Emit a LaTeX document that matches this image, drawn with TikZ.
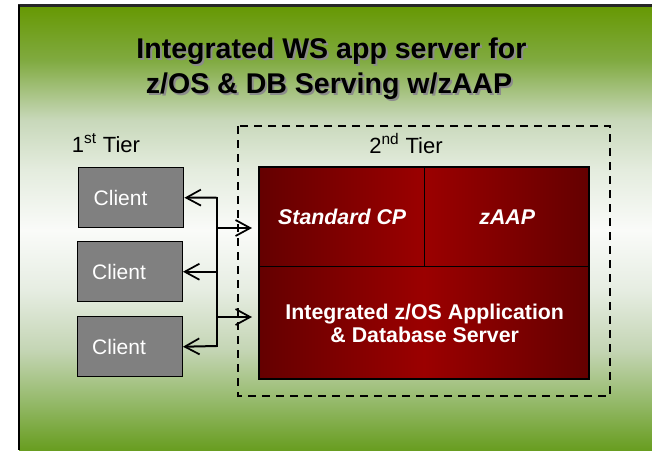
\documentclass[tikz,border=0pt]{standalone}
\usepackage{fontspec}
\setmainfont{Liberation Sans}
\usetikzlibrary{arrows.meta}
\definecolor{gA}{RGB}{102,152,2}
\definecolor{gB}{RGB}{128,170,64}
\definecolor{gC}{RGB}{200,216,186}
\definecolor{gD}{RGB}{228,236,222}
\definecolor{gE}{RGB}{250,251,249}
\definecolor{gF}{RGB}{230,237,226}
\definecolor{gG}{RGB}{196,213,180}
\definecolor{gH}{RGB}{150,186,108}
\definecolor{gI}{RGB}{104,157,32}
\definecolor{rdark}{RGB}{100,0,0}
\definecolor{rmid}{RGB}{155,0,0}
\definecolor{clientgray}{RGB}{128,128,128}
\pgfdeclareverticalshading{slidebg}{100bp}{color(0bp)=(gI); color(25bp)=(gI); color(30.6bp)=(gH); color(36.2bp)=(gG); color(43bp)=(gF); color(49.7bp)=(gE); color(56.5bp)=(gD); color(62.1bp)=(gC); color(68.8bp)=(gB); color(75bp)=(gA); color(100bp)=(gA)}
\tikzset{
  x=0.75pt, y=-0.75pt,
  ttl/.style={font=\fontsize{21.4pt}{26pt}\selectfont\bfseries, inner sep=0pt, anchor=base},
  tier/.style={font=\fontsize{16.5pt}{20pt}\selectfont, inner sep=0pt, anchor=base},
  client/.style={draw=black, line width=1.1pt, fill=clientgray, text=white,
    font=\fontsize{15.75pt}{18pt}\selectfont, minimum height=45pt,
    text width=56.25pt, inner xsep=11.25pt, align=left, anchor=north west},
  redpart/.style={draw=black, line width=1.1pt, text=white, inner sep=0pt, anchor=north west},
  arr/.style={line width=1.5pt, -{Straight Barb[length=11pt,width=12pt,line width=1.3pt]}},
  bus/.style={line width=1.5pt},
  tierbox/.style={draw=black, line width=1.1pt, dash pattern=on 6pt off 4.5pt}
}
\begin{document}
\begin{tikzpicture}
\useasboundingbox (0,0) rectangle (652,450);
\fill[white] (0,0) rectangle (652,450);
% slide background
\shade[shading=slidebg] (19,5) rectangle (652,450);
\draw[line width=1.6pt, black!85] (18,5.5) -- (652,5.5);
\draw[line width=2.2pt, black] (19,5) -- (19,450);
% title with shadow
\node[ttl, text=black!45] at (333.5,60) {Integrated WS app server for};
\node[ttl] (t1) at (331.5,58) {Integrated WS app server for};
\node[ttl, text=black!45] at (331,95) {z/OS \& DB Serving w/zAAP};
\node[ttl] (t2) at (329,93) {z/OS \& DB Serving w/zAAP};
% tiers
\node[tier] (tier1) at (106,152) {1\textsuperscript{st} Tier};
\draw[tierbox] (238,126) rectangle (610,396);
\node[tier] (tier2) at (406,153) {2\textsuperscript{nd} Tier};
% clients
\node[client, minimum width=78.75pt] (c1) at (78,167) {Client};
\node[client, minimum width=78.75pt] (c2) at (76.5,241) {Client};
\node[client, minimum width=78.75pt] (c3) at (76.5,316) {Client};
% red server block
\shade[left color=rdark, right color=rdark, middle color=rmid] (259,167) rectangle (589,379);
\node[redpart, minimum width=123.75pt, minimum height=74.25pt, font=\fontsize{16pt}{19pt}\selectfont\bfseries\itshape] (std) at (259,167) {Standard CP};
\node[redpart, minimum width=123.75pt, minimum height=74.25pt, font=\fontsize{16pt}{19pt}\selectfont\bfseries\itshape] (zaap) at (424,167) {zAAP};
\node[redpart, minimum width=247.5pt, minimum height=84.75pt, align=center, font=\fontsize{16pt}{17.5pt}\selectfont\bfseries] (srv) at (259,266) {Integrated z/OS Application\\\& Database Server};
\draw[line width=1.5pt] (259,167) rectangle (589,379);
% connectors
\coordinate (busT) at (216.5,197.5);
\coordinate (busB) at (216.5,346);
\coordinate (tipA) at (252,228);
\coordinate (tipB) at (252,317);
\draw[bus] ([yshift=0.75pt]busT) -- ([yshift=-0.75pt]busB);
\draw[arr] (busT) -- (c1.east);
\draw[arr] (c2.east -| busT) -- (c2.east);
\draw[arr] (busB) -- (c3.east);
\draw[arr] (tipA -| busT) -- (tipA);
\draw[arr] (tipB -| busT) -- (tipB);
\end{tikzpicture}
\end{document}
